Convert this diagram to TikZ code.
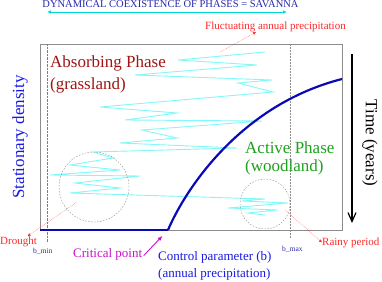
\documentclass[tikz,border=0pt]{standalone}
\usepackage{fontspec}
\setmainfont{Liberation Serif}
\usepackage{tikz}
\usetikzlibrary{arrows.meta,positioning,calc}
\definecolor{titleblue}{RGB}{40,40,170}
\definecolor{axisblue}{RGB}{25,25,225}
\definecolor{boundblue}{RGB}{110,110,240}
\definecolor{curveblue}{RGB}{10,10,180}
\definecolor{grassred}{RGB}{160,20,20}
\definecolor{woodgreen}{RGB}{30,160,30}
\definecolor{critmagenta}{RGB}{200,20,200}
\definecolor{notered}{RGB}{255,40,40}
\definecolor{raincyan}{RGB}{130,248,248}
\definecolor{arrowcyan}{RGB}{0,215,215}
\definecolor{framegray}{RGB}{140,140,140}

\begin{document}
\begin{tikzpicture}[x=1pt,y=-1pt,>=Latex,
  every node/.style={inner sep=0pt},
  biglabel/.style={font=\fontsize{17}{20}\selectfont},
  midlabel/.style={font=\fontsize{13}{16}\selectfont},
  smalllabel/.style={font=\fontsize{11}{13}\selectfont,text=notered},
  tinylabel/.style={font=\fontsize{7.5}{9}\selectfont,text=titleblue},
  note/.style={draw=notered,densely dotted,-{Latex[length=3pt,width=3pt]}},
  region/.style={draw=framegray,circle,dash pattern=on 1.5pt off 1.5pt}]
  \useasboundingbox (0,0) rectangle (382,281);

  % frame and bounds of the coexistence range
  \draw[framegray] (40,44) rectangle (342,230);
  \draw[boundblue,densely dotted] (47,44) -- (47,242);
  \draw[framegray,dash pattern=on 1.5pt off 1.5pt] (290,44) -- (290,238);

  % fluctuating precipitation
  \draw[raincyan,line width=0.9pt] (265,52) -- (178,60) -- (257,65) -- (135,75)
    -- (272,80) -- (238,83) -- (273,92) -- (100,107) -- (177,113) -- (125,120)
    -- (262,121) -- (142,130) -- (177,138) -- (120,143) -- (237,148) -- (93,152)
    -- (113,158) -- (70,165) -- (120,170) -- (50,175) -- (140,176) -- (75,183)
    -- (120,188) -- (70,193) -- (265,199) -- (242,201) -- (288,203) -- (228,208)
    -- (277,210) -- (248,213) -- (265,215);

  \node[region,minimum size=70pt] (dry) at (94,187) {};
  \node[region,minimum size=50pt] (wet) at (265,204) {};

  % order parameter
  \coordinate (crit) at (168,230);
  \draw[curveblue,line width=2.8pt] (40,230) -- (crit);
  \draw[curveblue,line width=2.2pt] (crit) .. controls (185,190) and (240,105) .. (342,79);

  % labels
  \node[font=\fontsize{10.5}{12}\selectfont,text=titleblue,anchor=base]
    (title) at (170.5,7) {DYNAMICAL COEXISTENCE OF PHASES = SAVANNA};
  \coordinate (spanl) at (47,12);
  \coordinate (spanr) at (287,12);
  \draw[arrowcyan,line width=0.9pt,{Latex[length=4pt,width=3.5pt]}-{Latex[length=4pt,width=3.5pt]}]
    (spanl) -- (spanr);
  \node[smalllabel,anchor=base west] (fluct) at (205,29.5) {Fluctuating annual precipitation};

  \node[biglabel,text=grassred,anchor=base west] (absorb) at (50,67) {Absorbing Phase};
  \node[biglabel,text=grassred,below=6.5pt of absorb.south west,anchor=north west]
    (grass) {(grassland)};
  \node[biglabel,text=woodgreen,anchor=base west] (active) at (245,153) {Active Phase};
  \node[biglabel,text=woodgreen,below=6.5pt of active.south west,anchor=north west]
    (wood) {(woodland)};

  \node[biglabel,text=axisblue,rotate=90] (density) at (20,137) {Stationary density};
  \node[biglabel,rotate=-90] (time) at (370,143) {Time (years)};
  \coordinate (ttop) at (352,54);
  \coordinate (tbot) at (352,223);
  \draw[line width=1.2pt,-{Straight Barb[length=9pt,width=8pt]}] (ttop) -- (tbot);

  \node[midlabel,text=axisblue,anchor=base west] (control) at (158,260) {Control parameter (b)};
  \node[midlabel,text=axisblue,below=5pt of control.south west,anchor=north west]
    (annual) {(annual precipitation)};
  \node[midlabel,text=critmagenta,anchor=base west] (critlabel) at (73,257) {Critical point};
  \draw[critmagenta,line width=0.9pt,-{Latex[length=5pt,width=4pt]},shorten <=2pt,shorten >=8pt]
    (critlabel.base east) -- (crit);

  \node[smalllabel,anchor=base west] (drought) at (0,244) {Drought};
  \node[smalllabel,anchor=base west] (rainy) at (322,245) {Rainy period};
  \node[tinylabel,anchor=base west] (bmin) at (33,253) {b\_min};
  \node[tinylabel,anchor=base west] (bmax) at (282,251) {b\_max};

  \coordinate (zigtop) at (220,52);
  \coordinate (drysrc) at (77,202);
  \coordinate (wetsrc) at (285,210);
  \draw[note] (zigtop) -- (fluct.195);
  \draw[note] (drysrc) -- (drought.30);
  \draw[note] (wetsrc) -- (rainy.west);
\end{tikzpicture}
\end{document}
